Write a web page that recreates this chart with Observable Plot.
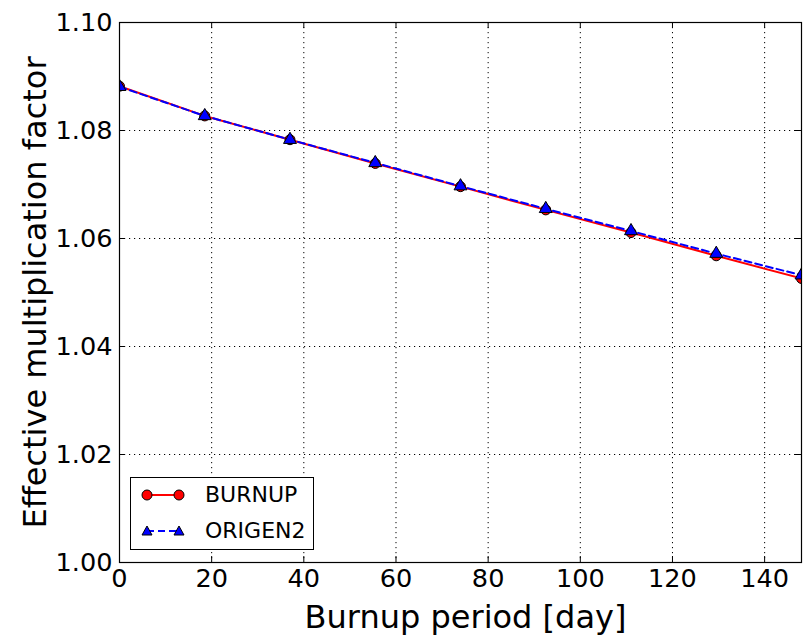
<!DOCTYPE html>
<html><head><meta charset="utf-8">
<script src="https://cdn.jsdelivr.net/npm/d3@7"></script>
<script src="https://cdn.jsdelivr.net/npm/@observablehq/plot@0.6"></script>
<style>
body{margin:0;background:#fff;font-family:"DejaVu Sans",sans-serif;}
#wrap{position:relative;width:803px;height:636px;overflow:hidden}
#legend{position:absolute;left:130px;top:477px;width:184px;height:73px;border:1.2px solid #000;background:#fff;box-sizing:border-box;font-family:"DejaVu Sans";font-size:22px}
#legend .row{position:absolute;left:0;height:30px;display:flex;align-items:center}
#legend .row span{position:absolute;left:74px;white-space:nowrap;line-height:30px}
</style></head><body><div id="wrap"></div>
<script>
const days = [0, 18.5, 37, 55.5, 74, 92.5, 111, 129.5, 148];
const burnupK = [1.0882, 1.0827, 1.0783, 1.0739, 1.0696, 1.0653, 1.0611, 1.0568, 1.0526];
const origen2K = [1.0881, 1.0827, 1.0783, 1.0740, 1.0697, 1.0655, 1.0614, 1.0572, 1.0532];
const xTicks = [0, 20, 40, 60, 80, 100, 120, 140];
const yTicks = [1.00, 1.02, 1.04, 1.06, 1.08, 1.10];
const seriesNames = ["BURNUP", "ORIGEN2"];

const burnup = days.map((d, i) => ({day: d, k: burnupK[i]}));
const origen = days.map((d, i) => ({day: d, k: origen2K[i]}));

const xDom = [0, 148], yDom = [1.0, 1.1];
const tx = 6 * (xDom[1] - xDom[0]) / 681; // inward tick length in data units
const ty = 6 * (yDom[1] - yDom[0]) / 540;

const chart = Plot.plot({
  width: 803, height: 636,
  marginLeft: 119, marginRight: 2, marginTop: 22, marginBottom: 74,
  style: {fontFamily: "DejaVu Sans", background: "#fff", color: "#000"},
  x: {domain: xDom},
  y: {domain: yDom},
  marks: [
    Plot.ruleX(xTicks, {stroke: "#000", strokeWidth: 1, strokeDasharray: "1.2,3.8"}),
    Plot.ruleY(yTicks, {stroke: "#000", strokeWidth: 1, strokeDasharray: "1.2,3.8"}),
    Plot.ruleX(xTicks, {x: d => d, y1: yDom[0], y2: yDom[0] + ty, stroke: "#000"}),
    Plot.ruleX(xTicks, {x: d => d, y1: yDom[1], y2: yDom[1] - ty, stroke: "#000"}),
    Plot.ruleY(yTicks, {y: d => d, x1: xDom[0], x2: xDom[0] + tx, stroke: "#000"}),
    Plot.ruleY(yTicks, {y: d => d, x1: xDom[1], x2: xDom[1] - tx, stroke: "#000"}),
    Plot.axisX({ticks: xTicks, tickSize: 0, tickPadding: 6, fontSize: 25.6, label: null}),
    Plot.axisY({ticks: yTicks, tickFormat: d => d.toFixed(2), tickSize: 0, tickPadding: 7, fontSize: 25.6, label: null}),
    Plot.line(burnup, {x: "day", y: "k", stroke: "red", strokeWidth: 2, clip: true}),
    Plot.dot(burnup, {x: "day", y: "k", r: 5, fill: "red", stroke: "#000", strokeWidth: 1, clip: true}),
    Plot.line(origen, {x: "day", y: "k", stroke: "blue", strokeWidth: 2, strokeDasharray: "7,4", clip: true}),
    Plot.dot(origen, {x: "day", y: "k", r: 4.8, symbol: "triangle", fill: "blue", stroke: "#000", strokeWidth: 1, clip: true}),
    Plot.frame({stroke: "#000", strokeWidth: 1.2}),
    Plot.text(["Burnup period [day]"], {frameAnchor: "bottom", dy: 55, dx: 5, fontSize: 32, textAnchor: "middle", lineAnchor: "middle", fill: "#000"}),
    Plot.text(["Effective multiplication factor"], {frameAnchor: "left", dx: -84, rotate: -90, fontSize: 32, textAnchor: "middle", lineAnchor: "middle", fill: "#000"})
  ]
});
const wrap = document.getElementById("wrap");
wrap.appendChild(chart);

const legend = document.createElement("div");
legend.id = "legend";
legend.innerHTML = `
<div class="row" style="top:2px;width:100%">
  <svg width="70" height="30" style="position:absolute;left:0;top:0">
    <line x1="16" y1="15" x2="48" y2="15" stroke="red" stroke-width="2"/>
    <circle cx="16" cy="15" r="5" fill="red" stroke="#000"/>
    <circle cx="48" cy="15" r="5" fill="red" stroke="#000"/>
  </svg><span>${seriesNames[0]}</span></div>
<div class="row" style="top:38px;width:100%">
  <svg width="70" height="30" style="position:absolute;left:0;top:0">
    <line x1="16" y1="15" x2="48" y2="15" stroke="blue" stroke-width="2" stroke-dasharray="7,4"/>
    <path d="M16,10 L21,19 L11,19 Z" fill="blue" stroke="#000"/>
    <path d="M48,10 L53,19 L43,19 Z" fill="blue" stroke="#000"/>
  </svg><span>${seriesNames[1]}</span></div>`;
wrap.appendChild(legend);
</script>
</body></html>
